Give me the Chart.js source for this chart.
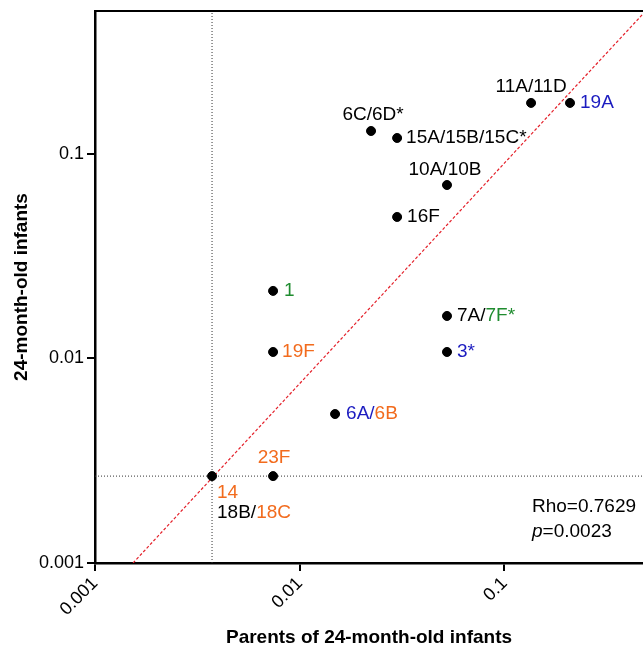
<!DOCTYPE html>
<html>
<head>
<meta charset="utf-8">
<script src="https://cdn.jsdelivr.net/npm/chart.js@4/dist/chart.umd.min.js"></script>
<style>
  html, body { margin: 0; padding: 0; background: #fff; }
  #wrap { width: 643px; height: 650px; }
</style>
</head>
<body>
<div id="wrap"><canvas id="grafico"></canvas></div>
<script>
// serotipos: proporcion en padres (x) y en infantes (y)
const serotipos = ["11A/11D", "19A", "6C/6D*", "15A/15B/15C*", "10A/10B", "16F", "1", "19F", "7A/7F*", "3*", "6A/6B", "23F", "14"]
const padres = [0.1349, 0.209, 0.0223, 0.0299, 0.0524, 0.0299, 0.00741, 0.00741, 0.0524, 0.0524, 0.01488, 0.00741, 0.00373]
const infantes = [0.1776, 0.1776, 0.1295, 0.1197, 0.0705, 0.0492, 0.0214, 0.01076, 0.01614, 0.01076, 0.00535, 0.00266, 0.00266]

// limites de deteccion y recta de regresion
const limite_x = 0.00373
const limite_y = 0.00266
const recta_x = [0.001534, 0.475]
const recta_y = [0.001, 0.484]

const x_ticks = [0.001, 0.01, 0.1]
const x_tick_labels = ["0.001", "0.01", "0.1"]
const y_ticks = [0.001, 0.01, 0.1]
const y_tick_labels = ["0.001", "0.01", "0.1"]
const x_min = 0.001, x_max = 0.475
const y_min = 0.001, y_max = 0.5

const negro = "#000000"
const verde = "#1f8c2f"
const naranja = "#f26b1d"
const azul = "#1c1cc0"

// etiquetas: partes de texto con color, desplazamiento en px respecto al punto
const etiquetas = [
    { partes: [["11A/11D", negro]], dx: 0, dy: -16, align: "center" },
    { partes: [["19A", azul]], dx: 10, dy: 0, align: "left" },
    { partes: [["6C/6D*", negro]], dx: 2, dy: -16, align: "center" },
    { partes: [["15A/15B/15C*", negro]], dx: 9, dy: 0, align: "left" },
    { partes: [["10A/10B", negro]], dx: -2, dy: -15, align: "center" },
    { partes: [["16F", negro]], dx: 10, dy: 0, align: "left" },
    { partes: [["1", verde]], dx: 11, dy: 0, align: "left" },
    { partes: [["19F", naranja]], dx: 9, dy: 0, align: "left" },
    { partes: [["7A/", negro], ["7F*", verde]], dx: 10, dy: 0, align: "left" },
    { partes: [["3*", azul]], dx: 10, dy: 0, align: "left" },
    { partes: [["6A/", azul], ["6B", naranja]], dx: 11, dy: 0, align: "left" },
    { partes: [["23F", naranja]], dx: 1, dy: -18, align: "center" },
    { partes: [["14", naranja]], dx: 5, dy: 17, align: "left", extra: [["18B/", negro], ["18C", naranja]] }
]

const fuente = "'Liberation Sans', Arial, sans-serif"
Chart.defaults.font.family = fuente
Chart.defaults.color = "#000"

function dibujar_partes(ctx, partes, x, y, align) {
    let total = 0
    for (const p of partes) total += ctx.measureText(p[0]).width
    let inicio = x
    if (align === "center") inicio = x - total / 2
    for (const p of partes) {
        ctx.fillStyle = p[1]
        ctx.fillText(p[0], inicio, y)
        inicio += ctx.measureText(p[0]).width
    }
}

function sin_relleno(s) {
    s.paddingLeft = 0
    s.paddingRight = 0
    s.paddingTop = 0
    s.paddingBottom = 0
}

const plugin_etiquetas = {
    id: "etiquetas",
    afterDatasetsDraw(chart) {
        const ctx = chart.ctx
        const meta = chart.getDatasetMeta(0)
        ctx.save()
        ctx.font = "19px " + fuente
        ctx.textAlign = "left"
        ctx.textBaseline = "middle"
        meta.data.forEach((pt, i) => {
            const e = etiquetas[i]
            dibujar_partes(ctx, e.partes, pt.x + e.dx, pt.y + e.dy, e.align)
            if (e.extra) dibujar_partes(ctx, e.extra, pt.x + e.dx, pt.y + e.dy + 20, e.align)
        })
        // estadistico
        const a = chart.chartArea
        const x0 = a.right - 111
        ctx.fillStyle = "#000"
        ctx.fillText("Rho=0.7629", x0, a.bottom - 56)
        ctx.font = "italic 19px " + fuente
        ctx.fillText("p", x0, a.bottom - 31)
        const w = ctx.measureText("p").width
        ctx.font = "19px " + fuente
        ctx.fillText("=0.0023", x0 + w, a.bottom - 31)
        ctx.restore()
    }
}

const puntos = padres.map((v, i) => ({ x: v, y: infantes[i] }))

new Chart(document.getElementById("grafico"), {
    type: "scatter",
    data: {
        datasets: [
            {
                label: "serotipos",
                data: puntos,
                backgroundColor: "#000",
                borderColor: "#000",
                pointRadius: 4.5,
                pointHoverRadius: 4.5,
                order: 0
            },
            {
                type: "line",
                label: "regresion",
                data: recta_x.map((v, i) => ({ x: v, y: recta_y[i] })),
                borderColor: "#e4202a",
                borderWidth: 1.2,
                borderDash: [3, 2],
                pointRadius: 0,
                fill: false,
                order: 1
            },
            {
                type: "line",
                label: "limite x",
                data: [{ x: limite_x, y: y_min }, { x: limite_x, y: y_max }],
                borderColor: "#333",
                borderWidth: 1,
                borderDash: [1, 2],
                pointRadius: 0,
                fill: false,
                order: 2
            },
            {
                type: "line",
                label: "limite y",
                data: [{ x: x_min, y: limite_y }, { x: x_max, y: limite_y }],
                borderColor: "#333",
                borderWidth: 1,
                borderDash: [1, 2],
                pointRadius: 0,
                fill: false,
                order: 2
            }
        ]
    },
    options: {
        responsive: true,
        maintainAspectRatio: false,
        animation: false,
        layout: { padding: 0, autoPadding: false },
        plugins: {
            legend: { display: false },
            tooltip: { enabled: false }
        },
        scales: {
            x: {
                type: "logarithmic",
                position: "bottom",
                min: x_min,
                max: x_max,
                afterBuildTicks: (s) => { s.ticks = x_ticks.map(v => ({ value: v })) },
                afterFit: (s) => { s.height = 87; sin_relleno(s) },
                ticks: {
                    minRotation: 45,
                    maxRotation: 45,
                    padding: 2,
                    font: { size: 18 },
                    color: "#000",
                    callback: (v) => x_tick_labels[x_ticks.indexOf(v)]
                },
                grid: { drawOnChartArea: false, drawTicks: true, tickLength: 8, color: "#000", lineWidth: 2 },
                border: { display: true, color: "#000", width: 2.5 },
                title: {
                    display: true,
                    text: "Parents of 24-month-old infants",
                    font: { size: 19, weight: "bold" },
                    color: "#000",
                    padding: { top: 0, bottom: 1 }
                }
            },
            x2: {
                type: "logarithmic",
                position: "top",
                min: x_min,
                max: x_max,
                afterFit: (s) => { s.height = 11; sin_relleno(s) },
                ticks: { display: false },
                grid: { display: false, drawTicks: false },
                border: { display: true, color: "#000", width: 2, dash: [3, 2] }
            },
            y: {
                type: "logarithmic",
                position: "left",
                min: y_min,
                max: y_max,
                afterBuildTicks: (s) => { s.ticks = y_ticks.map(v => ({ value: v })) },
                afterFit: (s) => { s.width = 95; sin_relleno(s) },
                ticks: {
                    padding: 3,
                    font: { size: 18 },
                    color: "#000",
                    callback: (v) => y_tick_labels[y_ticks.indexOf(v)]
                },
                grid: { drawOnChartArea: false, drawTicks: true, tickLength: 8, color: "#000", lineWidth: 2 },
                border: { display: true, color: "#000", width: 2.5 },
                title: {
                    display: true,
                    text: "24-month-old infants",
                    font: { size: 19, weight: "bold" },
                    color: "#000",
                    padding: { top: 10, bottom: 0 }
                }
            }
        }
    },
    plugins: [plugin_etiquetas]
})
</script>
</body>
</html>
